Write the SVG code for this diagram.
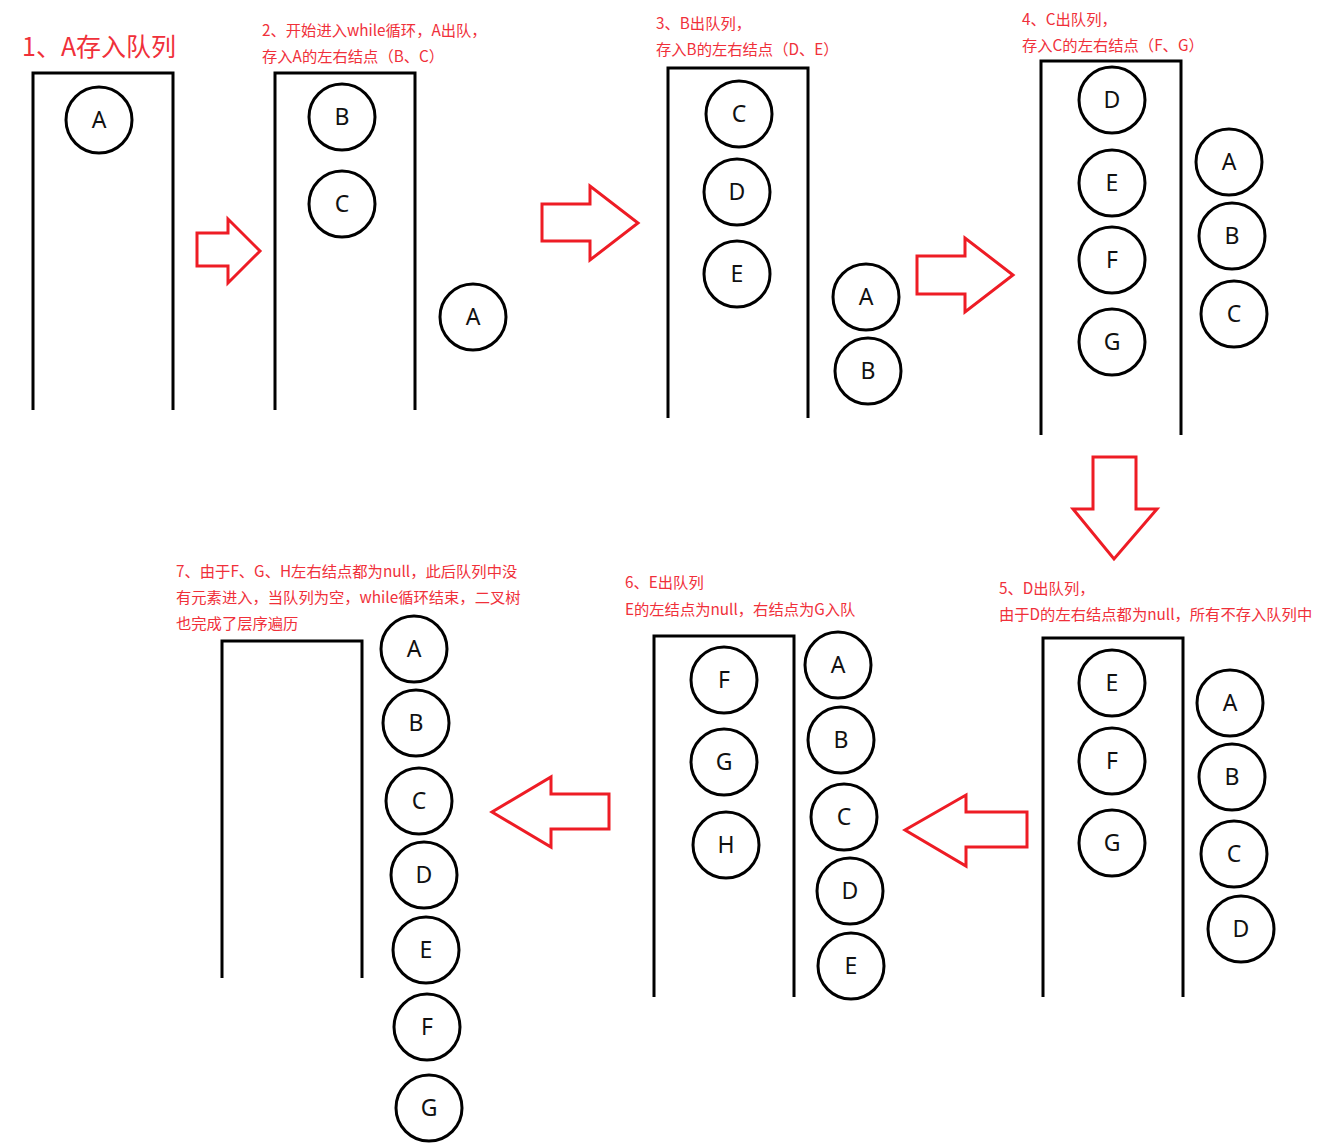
<svg xmlns="http://www.w3.org/2000/svg" width="1324" height="1143" viewBox="0 0 1324 1143">
<style>
.q{fill:none;stroke:#000;stroke-width:3}
.n circle{fill:#fff;stroke:#000;stroke-width:3}
.n text{font-family:"Noto Sans","Liberation Sans",sans-serif;font-size:23px;fill:#111;text-anchor:middle}
.lab{font-family:"Noto Sans CJK SC","Noto Sans",sans-serif;font-size:15.3px;fill:#f0303a}
.ar{fill:#fff;stroke:#ee1c25;stroke-width:3;stroke-linejoin:miter}
</style>
<rect width="1324" height="1143" fill="#fff"/>
<!-- labels -->
<g id="labels">
<text x="22" y="56" class="lab" style="font-size:25px">1、A存入队列</text>
<text class="lab"><tspan x="262" y="36">2、开始进入while循环，A出队，</tspan><tspan x="262" y="62">存入A的左右结点（B、C）</tspan></text>
<text class="lab"><tspan x="656" y="29">3、B出队列，</tspan><tspan x="656" y="55">存入B的左右结点（D、E）</tspan></text>
<text class="lab"><tspan x="1022" y="25">4、C出队列，</tspan><tspan x="1022" y="51">存入C的左右结点（F、G）</tspan></text>
<text class="lab"><tspan x="999" y="594">5、D出队列，</tspan><tspan x="999" y="620">由于D的左右结点都为null，所有不存入队列中</tspan></text>
<text class="lab"><tspan x="625" y="588">6、E出队列</tspan><tspan x="625" y="615">E的左结点为null，右结点为G入队</tspan></text>
<text class="lab"><tspan x="176" y="577">7、由于F、G、H左右结点都为null，此后队列中没</tspan><tspan x="176" y="603">有元素进入，当队列为空，while循环结束，二叉树</tspan><tspan x="176" y="629">也完成了层序遍历</tspan></text>
</g>
<!-- queues -->
<g id="queue1"><path class="q" d="M33 410V73H173V410"/></g>
<g id="queue2"><path class="q" d="M275 410V73H415V410"/></g>
<g id="queue3"><path class="q" d="M668 418V68H808V418"/></g>
<g id="queue4"><path class="q" d="M1041 435V61H1181V435"/></g>
<g id="queue5"><path class="q" d="M1043 997V638H1183V997"/></g>
<g id="queue6"><path class="q" d="M654 997V636H794V997"/></g>
<g id="queue7"><path class="q" d="M222 978V641H362V978"/></g>
<!-- connectors (step arrows) -->
<g id="connectors">
<path class="ar" d="M197 233H228V219L260 251L228 283V266H197Z"/>
<path class="ar" d="M542 204H590V186L638 223L590 260V241H542Z"/>
<path class="ar" d="M917 256H965V238L1013 275L965 312V294H917Z"/>
<path class="ar" d="M1093 457H1136V509H1157L1114 559L1073 509H1093Z"/>
<path class="ar" d="M1027 812H966V795L905 830L966 866V847H1027Z"/>
<path class="ar" d="M609 794H551V777L492 812L551 847V829H609Z"/>
</g>
<!-- nodes -->
<g class="n">
<g id="p1A"><circle cx="99" cy="120" r="33"/><text x="99" y="128">A</text></g>
<g id="p2B"><circle cx="342" cy="117" r="33"/><text x="342" y="125">B</text></g>
<g id="p2C"><circle cx="342" cy="204" r="33"/><text x="342" y="212">C</text></g>
<g id="p2oA"><circle cx="473" cy="317" r="33"/><text x="473" y="325">A</text></g>
<g id="p3C"><circle cx="739" cy="114" r="33"/><text x="739" y="122">C</text></g>
<g id="p3D"><circle cx="737" cy="192" r="33"/><text x="737" y="200">D</text></g>
<g id="p3E"><circle cx="737" cy="274" r="33"/><text x="737" y="282">E</text></g>
<g id="p3oA"><circle cx="866" cy="297" r="33"/><text x="866" y="305">A</text></g>
<g id="p3oB"><circle cx="868" cy="371" r="33"/><text x="868" y="379">B</text></g>
<g id="p4D"><circle cx="1112" cy="100" r="33"/><text x="1112" y="108">D</text></g>
<g id="p4E"><circle cx="1112" cy="183" r="33"/><text x="1112" y="191">E</text></g>
<g id="p4F"><circle cx="1112" cy="260" r="33"/><text x="1112" y="268">F</text></g>
<g id="p4G"><circle cx="1112" cy="342" r="33"/><text x="1112" y="350">G</text></g>
<g id="p4oA"><circle cx="1229" cy="162" r="33"/><text x="1229" y="170">A</text></g>
<g id="p4oB"><circle cx="1232" cy="236" r="33"/><text x="1232" y="244">B</text></g>
<g id="p4oC"><circle cx="1234" cy="314" r="33"/><text x="1234" y="322">C</text></g>
<g id="p5E"><circle cx="1112" cy="683" r="33"/><text x="1112" y="691">E</text></g>
<g id="p5F"><circle cx="1112" cy="761" r="33"/><text x="1112" y="769">F</text></g>
<g id="p5G"><circle cx="1112" cy="843" r="33"/><text x="1112" y="851">G</text></g>
<g id="p5oA"><circle cx="1230" cy="703" r="33"/><text x="1230" y="711">A</text></g>
<g id="p5oB"><circle cx="1232" cy="777" r="33"/><text x="1232" y="785">B</text></g>
<g id="p5oC"><circle cx="1234" cy="854" r="33"/><text x="1234" y="862">C</text></g>
<g id="p5oD"><circle cx="1241" cy="929" r="33"/><text x="1241" y="937">D</text></g>
<g id="p6F"><circle cx="724" cy="680" r="33"/><text x="724" y="688">F</text></g>
<g id="p6G"><circle cx="724" cy="762" r="33"/><text x="724" y="770">G</text></g>
<g id="p6H"><circle cx="726" cy="845" r="33"/><text x="726" y="853">H</text></g>
<g id="p6oA"><circle cx="838" cy="665" r="33"/><text x="838" y="673">A</text></g>
<g id="p6oB"><circle cx="841" cy="740" r="33"/><text x="841" y="748">B</text></g>
<g id="p6oC"><circle cx="844" cy="817" r="33"/><text x="844" y="825">C</text></g>
<g id="p6oD"><circle cx="850" cy="891" r="33"/><text x="850" y="899">D</text></g>
<g id="p6oE"><circle cx="851" cy="966" r="33"/><text x="851" y="974">E</text></g>
<g id="p7A"><circle cx="414" cy="649" r="33"/><text x="414" y="657">A</text></g>
<g id="p7B"><circle cx="416" cy="723" r="33"/><text x="416" y="731">B</text></g>
<g id="p7C"><circle cx="419" cy="801" r="33"/><text x="419" y="809">C</text></g>
<g id="p7D"><circle cx="424" cy="875" r="33"/><text x="424" y="883">D</text></g>
<g id="p7E"><circle cx="426" cy="950" r="33"/><text x="426" y="958">E</text></g>
<g id="p7F"><circle cx="427" cy="1027" r="33"/><text x="427" y="1035">F</text></g>
<g id="p7G"><circle cx="429" cy="1108" r="33"/><text x="429" y="1116">G</text></g>
</g>
</svg>
